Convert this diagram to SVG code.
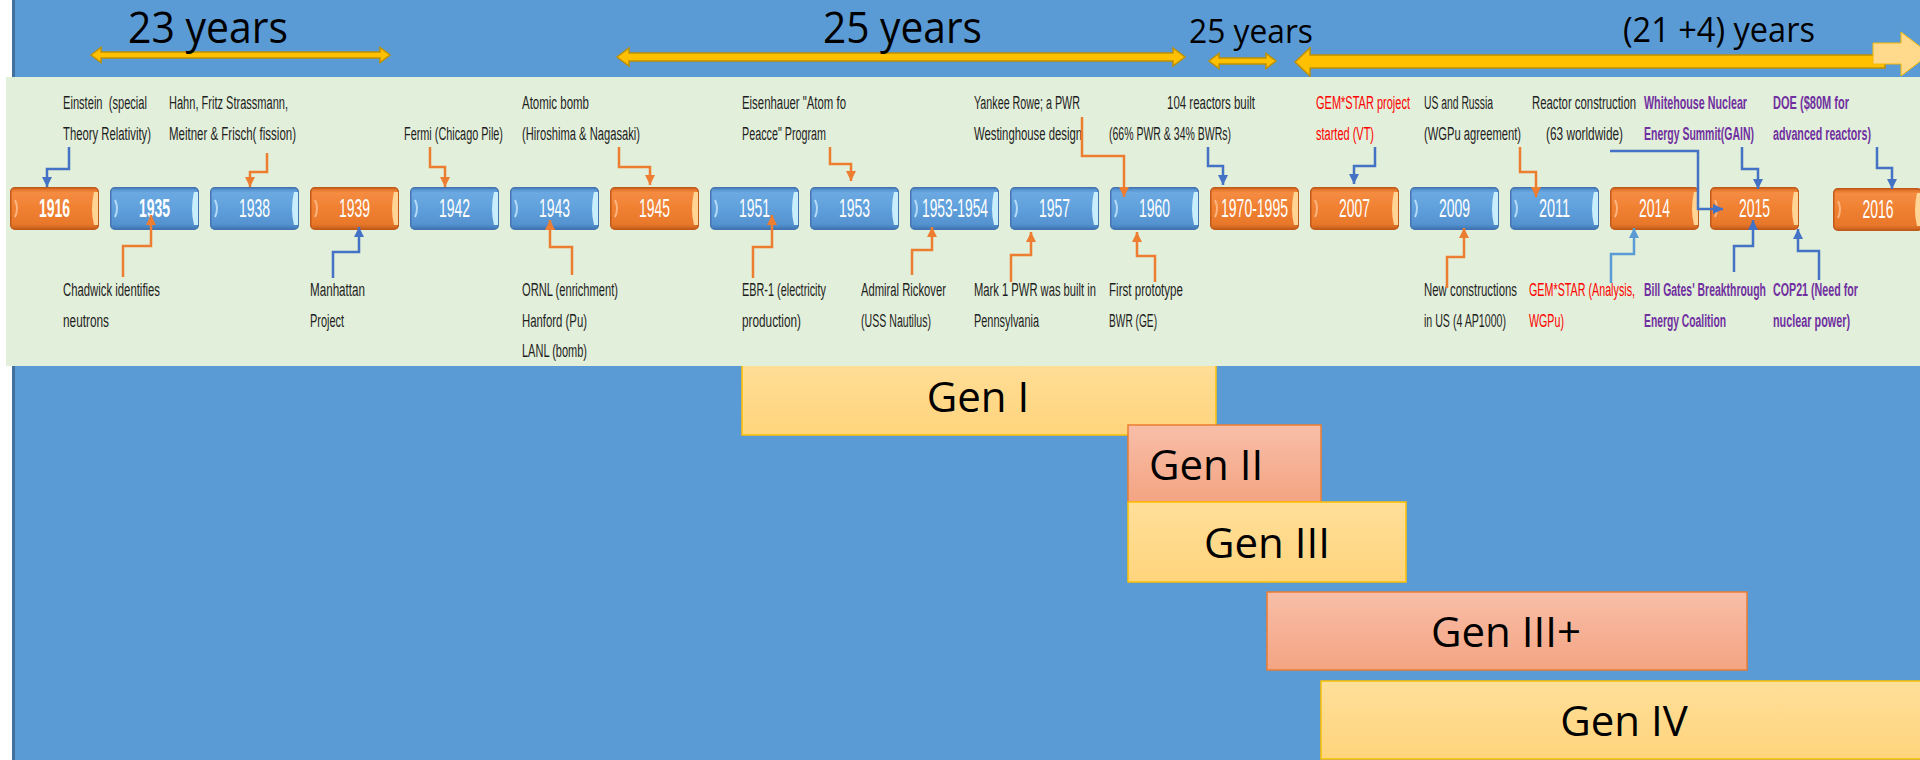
<svg xmlns="http://www.w3.org/2000/svg" width="1920" height="760" viewBox="0 0 1920 760">
<style>
.ann{font-family:"Liberation Sans",Arial,sans-serif;font-size:19px;fill:#1E1E1E}
.red{fill:#FF0000}
.pur{fill:#7030A0;font-weight:bold}
.yr{font-family:"Liberation Sans",Arial,sans-serif;font-size:26px;fill:#fff;text-anchor:middle}
.big{font-family:"Open Sans","Liberation Sans",sans-serif;fill:#000}
.gen{font-family:"Open Sans","Liberation Sans",sans-serif;font-size:42px;fill:#000}
.cB{fill:none;stroke:#4472C4;stroke-width:2.5;marker-end:url(#aB)}
.cO{fill:none;stroke:#ED7D31;stroke-width:2.5;marker-end:url(#aO)}
.cL{fill:none;stroke:#5B9BD5;stroke-width:2.5;marker-end:url(#aL)}
.span{fill:#FFC000;stroke:#BF9000;stroke-width:1.5}
.gy{fill:url(#gY);stroke:#FFC000;stroke-width:1.5}
.gs{fill:url(#gS);stroke:#ED7D31;stroke-width:1.5}
</style>
<defs>
<linearGradient id="gB" x1="0" y1="0" x2="0" y2="1">
<stop offset="0" stop-color="#4A86C6"/><stop offset="0.12" stop-color="#6CA9E2"/><stop offset="0.5" stop-color="#5FA0DC"/><stop offset="0.88" stop-color="#5592D0"/><stop offset="1" stop-color="#3D77B5"/>
</linearGradient>
<linearGradient id="gO" x1="0" y1="0" x2="0" y2="1">
<stop offset="0" stop-color="#DA6A1E"/><stop offset="0.12" stop-color="#F48C42"/><stop offset="0.5" stop-color="#F08031"/><stop offset="0.88" stop-color="#E8772A"/><stop offset="1" stop-color="#C5601B"/>
</linearGradient>
<linearGradient id="gY" x1="0" y1="0" x2="0" y2="1">
<stop offset="0" stop-color="#FFDF9A"/><stop offset="1" stop-color="#FFD47C"/>
</linearGradient>
<linearGradient id="gS" x1="0" y1="0" x2="0" y2="1">
<stop offset="0" stop-color="#F8BEA8"/><stop offset="1" stop-color="#F4A482"/>
</linearGradient>
<marker id="aB" markerUnits="userSpaceOnUse" markerWidth="10" markerHeight="10" viewBox="0 0 10 10" refX="10" refY="5" orient="auto"><path d="M0,0 L10,5 L0,10 z" fill="#4472C4"/></marker>
<marker id="aO" markerUnits="userSpaceOnUse" markerWidth="10" markerHeight="10" viewBox="0 0 10 10" refX="10" refY="5" orient="auto"><path d="M0,0 L10,5 L0,10 z" fill="#ED7D31"/></marker>
<marker id="aL" markerUnits="userSpaceOnUse" markerWidth="10" markerHeight="10" viewBox="0 0 10 10" refX="10" refY="5" orient="auto"><path d="M0,0 L10,5 L0,10 z" fill="#5B9BD5"/></marker>
<g id="boxB">
<rect x="0.75" y="0.75" width="87.5" height="41.5" rx="4" fill="url(#gB)" stroke="#4575B0" stroke-width="1.5"/>
<path d="M88,5 L84,5 Q80,21.5 84,38 L88,38 Z" fill="#C8EDFB"/>
<path d="M5,13 Q9,21.5 5,30" fill="none" stroke="#B5DBF7" stroke-width="2"/>
</g>
<g id="boxO">
<rect x="0.75" y="0.75" width="87.5" height="41.5" rx="4" fill="url(#gO)" stroke="#C0591A" stroke-width="1.5"/>
<path d="M88,5 L84,5 Q80,21.5 84,38 L88,38 Z" fill="#FFD495"/>
<path d="M5,13 Q9,21.5 5,30" fill="none" stroke="#FBB680" stroke-width="2"/>
</g>
</defs>

<g id="background">
<rect x="0" y="0" width="1920" height="760" fill="#5B9BD5"/>
<rect x="0" y="0" width="12" height="760" fill="#FFFFFF"/>
<rect x="12" y="0" width="3" height="760" fill="#41719C"/>
</g>

<g id="gen-bars">
<g id="gen1"><rect class="gy" x="742" y="355" width="474" height="80"/><text class="gen" x="978" y="412" text-anchor="middle">Gen I</text></g>
<g id="gen2"><rect class="gs" x="1128" y="425" width="193" height="77"/><text class="gen" x="1149" y="480">Gen II</text></g>
<g id="gen3"><rect class="gy" x="1128" y="502" width="278" height="80"/><text class="gen" x="1267" y="558" text-anchor="middle">Gen III</text></g>
<g id="gen3plus"><rect class="gs" x="1267" y="592" width="480" height="78"/><text class="gen" x="1506" y="647" text-anchor="middle">Gen III+</text></g>
<g id="gen4"><rect class="gy" x="1321" y="681" width="620" height="78"/><text class="gen" x="1624" y="736" text-anchor="middle">Gen IV</text></g>
</g>

<g id="spans">
<polygon class="span" points="91,55 101,47.5 101,52 380,52 380,47.5 390,55 380,62.5 380,58 101,58 101,62.5"/>
<text class="big" x="128" y="43" font-size="43" textLength="160" lengthAdjust="spacingAndGlyphs">23 years</text>
<polygon class="span" points="617,57 629,48 629,53 1173,53 1173,48 1185,57 1173,66 1173,61 629,61 629,66"/>
<text class="big" x="823" y="43" font-size="43" textLength="159" lengthAdjust="spacingAndGlyphs">25 years</text>
<polygon class="span" points="1209,61 1219,53.5 1219,58 1266,58 1266,53.5 1276,61 1266,68.5 1266,64 1219,64 1219,68.5"/>
<text class="big" x="1189" y="43" font-size="32" textLength="124" lengthAdjust="spacingAndGlyphs">25 years</text>
<polygon class="span" points="1295,62 1310,48 1310,55 1885,55 1885,68 1310,68 1310,76"/>
<polygon points="1873,43 1901,43 1901,32 1930,54 1901,76 1901,64 1873,64" fill="#FFD98C" stroke="#F5B800" stroke-width="1"/>
<text class="big" x="1623" y="42" font-size="34" textLength="192" lengthAdjust="spacingAndGlyphs">(21 +4) years</text>
</g>

<g id="timeline-panel">
<rect x="6" y="77" width="1914" height="289" fill="#E2EFDA"/>
</g>

<g id="annotations">
<text class="ann" transform="translate(63,109) scale(0.55,1)" textLength="152.7" lengthAdjust="spacingAndGlyphs" xml:space="preserve">Einstein  (special</text>
<text class="ann" transform="translate(63,140) scale(0.55,1)" textLength="160" lengthAdjust="spacingAndGlyphs">Theory Relativity)</text>
<text class="ann" transform="translate(169,109) scale(0.55,1)" textLength="216.4" lengthAdjust="spacingAndGlyphs">Hahn, Fritz Strassmann,</text>
<text class="ann" transform="translate(169,140) scale(0.55,1)" textLength="230.9" lengthAdjust="spacingAndGlyphs">Meitner &amp; Frisch( fission)</text>
<text class="ann" transform="translate(404,140) scale(0.55,1)" textLength="180" lengthAdjust="spacingAndGlyphs">Fermi (Chicago Pile)</text>
<text class="ann" transform="translate(522,109) scale(0.55,1)" textLength="121.8" lengthAdjust="spacingAndGlyphs">Atomic bomb</text>
<text class="ann" transform="translate(522,140) scale(0.55,1)" textLength="214.5" lengthAdjust="spacingAndGlyphs">(Hiroshima &amp; Nagasaki)</text>
<text class="ann" transform="translate(742,109) scale(0.55,1)" textLength="189.1" lengthAdjust="spacingAndGlyphs">Eisenhauer "Atom fo</text>
<text class="ann" transform="translate(742,140) scale(0.55,1)" textLength="152.7" lengthAdjust="spacingAndGlyphs">Peacce" Program</text>
<text class="ann" transform="translate(974,109) scale(0.55,1)" textLength="192.7" lengthAdjust="spacingAndGlyphs">Yankee Rowe; a PWR</text>
<text class="ann" transform="translate(974,140) scale(0.55,1)" textLength="196.4" lengthAdjust="spacingAndGlyphs">Westinghouse design</text>
<text class="ann" transform="translate(1167,109) scale(0.55,1)" textLength="160" lengthAdjust="spacingAndGlyphs">104 reactors built</text>
<text class="ann" transform="translate(1109,140) scale(0.55,1)" textLength="221.8" lengthAdjust="spacingAndGlyphs">(66% PWR &amp; 34% BWRs)</text>
<text class="ann red" transform="translate(1316,109) scale(0.55,1)" textLength="170.9" lengthAdjust="spacingAndGlyphs">GEM*STAR project</text>
<text class="ann red" transform="translate(1316,140) scale(0.55,1)" textLength="105.5" lengthAdjust="spacingAndGlyphs">started (VT)</text>
<text class="ann" transform="translate(1424,109) scale(0.55,1)" textLength="125.5" lengthAdjust="spacingAndGlyphs">US and Russia</text>
<text class="ann" transform="translate(1424,140) scale(0.55,1)" textLength="176.4" lengthAdjust="spacingAndGlyphs">(WGPu agreement)</text>
<text class="ann" transform="translate(1532,109) scale(0.55,1)" textLength="189.1" lengthAdjust="spacingAndGlyphs">Reactor construction</text>
<text class="ann" transform="translate(1546,140) scale(0.55,1)" textLength="140" lengthAdjust="spacingAndGlyphs">(63 worldwide)</text>
<text class="ann pur" transform="translate(1644,109) scale(0.55,1)" textLength="187.3" lengthAdjust="spacingAndGlyphs">Whitehouse Nuclear</text>
<text class="ann pur" transform="translate(1644,140) scale(0.55,1)" textLength="200" lengthAdjust="spacingAndGlyphs">Energy Summit(GAIN)</text>
<text class="ann pur" transform="translate(1773,109) scale(0.55,1)" textLength="138.2" lengthAdjust="spacingAndGlyphs">DOE ($80M for</text>
<text class="ann pur" transform="translate(1773,140) scale(0.55,1)" textLength="178.2" lengthAdjust="spacingAndGlyphs">advanced reactors)</text>

<text class="ann" transform="translate(63,296) scale(0.55,1)" textLength="176.4" lengthAdjust="spacingAndGlyphs">Chadwick identifies</text>
<text class="ann" transform="translate(63,327) scale(0.55,1)" textLength="83.6" lengthAdjust="spacingAndGlyphs">neutrons</text>
<text class="ann" transform="translate(310,296) scale(0.55,1)" textLength="100" lengthAdjust="spacingAndGlyphs">Manhattan</text>
<text class="ann" transform="translate(310,327) scale(0.55,1)" textLength="61.8" lengthAdjust="spacingAndGlyphs">Project</text>
<text class="ann" transform="translate(522,296) scale(0.55,1)" textLength="174.5" lengthAdjust="spacingAndGlyphs">ORNL (enrichment)</text>
<text class="ann" transform="translate(522,327) scale(0.55,1)" textLength="118.2" lengthAdjust="spacingAndGlyphs">Hanford (Pu)</text>
<text class="ann" transform="translate(522,357) scale(0.55,1)" textLength="118.2" lengthAdjust="spacingAndGlyphs">LANL (bomb)</text>
<text class="ann" transform="translate(742,296) scale(0.55,1)" textLength="152.7" lengthAdjust="spacingAndGlyphs">EBR-1 (electricity</text>
<text class="ann" transform="translate(742,327) scale(0.55,1)" textLength="107.3" lengthAdjust="spacingAndGlyphs">production)</text>
<text class="ann" transform="translate(861,296) scale(0.55,1)" textLength="154.5" lengthAdjust="spacingAndGlyphs">Admiral Rickover</text>
<text class="ann" transform="translate(861,327) scale(0.55,1)" textLength="127.3" lengthAdjust="spacingAndGlyphs">(USS Nautilus)</text>
<text class="ann" transform="translate(974,296) scale(0.55,1)" textLength="221.8" lengthAdjust="spacingAndGlyphs">Mark 1 PWR was built in</text>
<text class="ann" transform="translate(974,327) scale(0.55,1)" textLength="118.2" lengthAdjust="spacingAndGlyphs">Pennsylvania</text>
<text class="ann" transform="translate(1109,296) scale(0.55,1)" textLength="134.5" lengthAdjust="spacingAndGlyphs">First prototype</text>
<text class="ann" transform="translate(1109,327) scale(0.55,1)" textLength="87.3" lengthAdjust="spacingAndGlyphs">BWR (GE)</text>
<text class="ann" transform="translate(1424,296) scale(0.55,1)" textLength="169.1" lengthAdjust="spacingAndGlyphs">New constructions</text>
<text class="ann" transform="translate(1424,327) scale(0.55,1)" textLength="149.1" lengthAdjust="spacingAndGlyphs">in US (4 AP1000)</text>
<text class="ann red" transform="translate(1529,296) scale(0.55,1)" textLength="192.7" lengthAdjust="spacingAndGlyphs">GEM*STAR (Analysis,</text>
<text class="ann red" transform="translate(1529,327) scale(0.55,1)" textLength="63.6" lengthAdjust="spacingAndGlyphs">WGPu)</text>
<text class="ann pur" transform="translate(1644,296) scale(0.55,1)" textLength="221.8" lengthAdjust="spacingAndGlyphs">Bill Gates' Breakthrough</text>
<text class="ann pur" transform="translate(1644,327) scale(0.55,1)" textLength="149.1" lengthAdjust="spacingAndGlyphs">Energy Coalition</text>
<text class="ann pur" transform="translate(1773,296) scale(0.55,1)" textLength="154.5" lengthAdjust="spacingAndGlyphs">COP21 (Need for</text>
<text class="ann pur" transform="translate(1773,327) scale(0.55,1)" textLength="140" lengthAdjust="spacingAndGlyphs">nuclear power)</text>
</g>

<g id="y1916"><use href="#boxO" x="10" y="187"/><text class="yr" transform="translate(54.5,217) scale(0.54,1)" font-weight="bold" textLength="57.4" lengthAdjust="spacingAndGlyphs">1916</text></g>
<g id="y1935"><use href="#boxB" x="110" y="187"/><text class="yr" transform="translate(154.5,217) scale(0.54,1)" font-weight="bold" textLength="57.4" lengthAdjust="spacingAndGlyphs">1935</text></g>
<g id="y1938"><use href="#boxB" x="210" y="187"/><text class="yr" transform="translate(254.5,217) scale(0.54,1)" textLength="57.4" lengthAdjust="spacingAndGlyphs">1938</text></g>
<g id="y1939"><use href="#boxO" x="310" y="187"/><text class="yr" transform="translate(354.5,217) scale(0.54,1)" textLength="57.4" lengthAdjust="spacingAndGlyphs">1939</text></g>
<g id="y1942"><use href="#boxB" x="410" y="187"/><text class="yr" transform="translate(454.5,217) scale(0.54,1)" textLength="57.4" lengthAdjust="spacingAndGlyphs">1942</text></g>
<g id="y1943"><use href="#boxB" x="510" y="187"/><text class="yr" transform="translate(554.5,217) scale(0.54,1)" textLength="57.4" lengthAdjust="spacingAndGlyphs">1943</text></g>
<g id="y1945"><use href="#boxO" x="610" y="187"/><text class="yr" transform="translate(654.5,217) scale(0.54,1)" textLength="57.4" lengthAdjust="spacingAndGlyphs">1945</text></g>
<g id="y1951"><use href="#boxB" x="710" y="187"/><text class="yr" transform="translate(754.5,217) scale(0.54,1)" textLength="57.4" lengthAdjust="spacingAndGlyphs">1951</text></g>
<g id="y1953"><use href="#boxB" x="810" y="187"/><text class="yr" transform="translate(854.5,217) scale(0.54,1)" textLength="57.4" lengthAdjust="spacingAndGlyphs">1953</text></g>
<g id="y1953-1954"><use href="#boxB" x="910" y="187"/><text class="yr" transform="translate(955,217) scale(0.54,1)" textLength="122.2" lengthAdjust="spacingAndGlyphs">1953-1954</text></g>
<g id="y1957"><use href="#boxB" x="1010" y="187"/><text class="yr" transform="translate(1054.5,217) scale(0.54,1)" textLength="57.4" lengthAdjust="spacingAndGlyphs">1957</text></g>
<g id="y1960"><use href="#boxB" x="1110" y="187"/><text class="yr" transform="translate(1154.5,217) scale(0.54,1)" textLength="57.4" lengthAdjust="spacingAndGlyphs">1960</text></g>
<g id="y1970-1995"><use href="#boxO" x="1210" y="187"/><text class="yr" transform="translate(1254.5,217) scale(0.54,1)" textLength="124" lengthAdjust="spacingAndGlyphs">1970-1995</text></g>
<g id="y2007"><use href="#boxO" x="1310" y="187"/><text class="yr" transform="translate(1354.5,217) scale(0.54,1)" textLength="57.4" lengthAdjust="spacingAndGlyphs">2007</text></g>
<g id="y2009"><use href="#boxB" x="1410" y="187"/><text class="yr" transform="translate(1454.5,217) scale(0.54,1)" textLength="57.4" lengthAdjust="spacingAndGlyphs">2009</text></g>
<g id="y2011"><use href="#boxB" x="1510" y="187"/><text class="yr" transform="translate(1554.5,217) scale(0.54,1)" textLength="57.4" lengthAdjust="spacingAndGlyphs">2011</text></g>
<g id="y2014"><use href="#boxO" x="1610" y="187"/><text class="yr" transform="translate(1654.5,217) scale(0.54,1)" textLength="57.4" lengthAdjust="spacingAndGlyphs">2014</text></g>
<g id="y2015"><use href="#boxO" x="1710" y="187"/><text class="yr" transform="translate(1754.5,217) scale(0.54,1)" textLength="57.4" lengthAdjust="spacingAndGlyphs">2015</text></g>
<g id="y2016"><use href="#boxO" x="1833" y="188"/><text class="yr" transform="translate(1878,218) scale(0.54,1)" textLength="57.4" lengthAdjust="spacingAndGlyphs">2016</text></g>

<g id="connectors">
<path class="cB" d="M69,147 V169 H47 V187"/>
<path class="cO" d="M267,153 V172 H250 V187"/>
<path class="cO" d="M430,147 V167 H445 V187"/>
<path class="cO" d="M619,147 V167 H650 V185"/>
<path class="cO" d="M830,147 V164 H851 V181"/>
<path class="cO" d="M1082,117 V156 H1124 V197"/>
<path class="cB" d="M1208,147 V166 H1223 V185"/>
<path class="cB" d="M1375,147 V166 H1354 V184"/>
<path class="cO" d="M1520,147 V172 H1536 V197"/>
<path class="cB" d="M1610,151 H1698 V209 H1723"/>
<path class="cB" d="M1742,147 V169 H1758 V189"/>
<path class="cB" d="M1877,147 V168 H1892 V189"/>
<path class="cO" d="M123,277 V246 H151 V215"/>
<path class="cB" d="M333,278 V252 H359 V227"/>
<path class="cO" d="M572,275 V247 H550 V220"/>
<path class="cO" d="M753,278 V247 H772 V215"/>
<path class="cO" d="M912,275 V250 H932 V227"/>
<path class="cO" d="M1011,282 V255 H1031 V232"/>
<path class="cO" d="M1155,282 V256 H1137 V232"/>
<path class="cO" d="M1447,288 V257 H1464 V228"/>
<path class="cL" d="M1611,283 V254 H1634 V228"/>
<path class="cB" d="M1734,272 V246 H1753 V220"/>
<path class="cB" d="M1819,280 V251 H1798 V229"/>
</g>
</svg>
